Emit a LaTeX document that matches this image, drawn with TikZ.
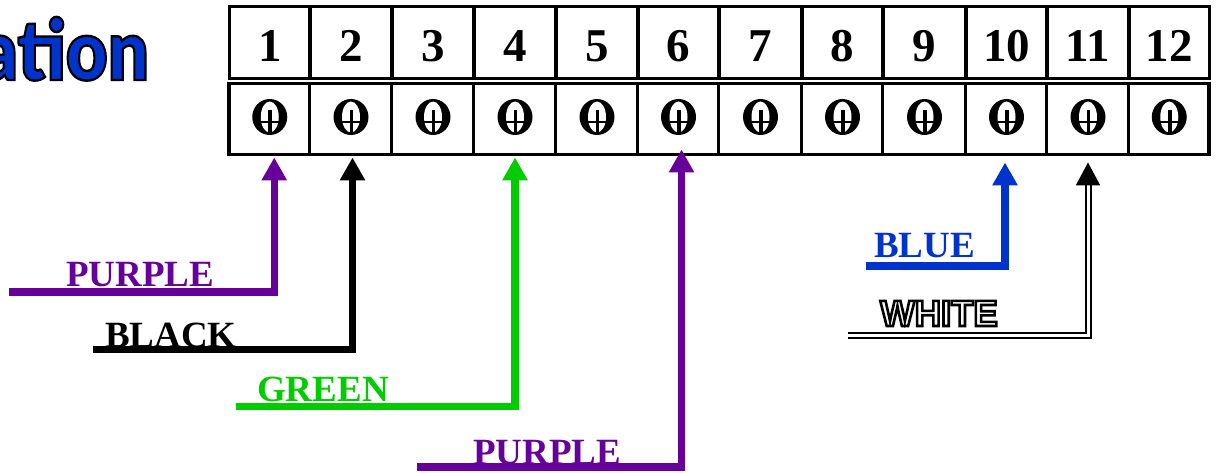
\documentclass[tikz,border=0pt]{standalone}
\usepackage{fontspec}
\usetikzlibrary{arrows.meta}
\setmainfont{Liberation Serif}
\newfontfamily\hdfont{Liberation Sans}[BoldFont=* Bold]
\newfontfamily\ttlfont{Lato Black}
\definecolor{wpurple}{HTML}{660099}
\definecolor{wgreen}{HTML}{00CC00}
\definecolor{wblue}{HTML}{0033CC}
\newcommand\strokeon[1]{\special{pdf:code 2 Tr #1 w 0 0 0 RG}}
\newcommand\strokeoff{\special{pdf:code 0 Tr}}
\tikzset{
  x=1pt,y=-1pt,
  cella/.style={draw=black,line width=3.4pt,minimum height=72pt,inner sep=0pt,font=\fontsize{47}{50}\selectfont\bfseries},
  cellb/.style={draw=black,line width=3.4pt,minimum height=71.5pt,inner sep=0pt},
  wire/.style={line width=7.3pt,line join=miter,-{Triangle[length=23pt,width=24pt]}},
  wlabel/.style={anchor=base west,inner sep=0pt,font=\fontsize{37}{40}\selectfont\bfseries},
}
\begin{document}
\begin{tikzpicture}
\useasboundingbox (0,0) rectangle (1218,473);
\node[anchor=base east,inner sep=0pt,xscale=.86,font=\ttlfont\fontsize{84}{88}\selectfont] (title) at (149,80) {\color{wblue}\strokeon{2.4}ation\strokeoff};
% cells
\foreach \i/\l/\r in {1/229.5/310,2/310/392,3/392/474,4/474/556,5/556/638,6/638/719,7/719/802,8/802/883,9/883/966,10/966/1047,11/1047/1129,12/1129/1209.5}{
  \pgfmathsetmacro\w{\r-\l}
  \pgfmathsetmacro\c{(\r+\l)/2}
  \node[cella,minimum width=\w pt] (a\i) at (\c,42.5) {\raisebox{-19.5pt}[0pt][0pt]{\i}};
  \node[cellb,minimum width=\w pt] (b\i) at (\c-.5,119) {};
  \fill[black] (\c-17.5,117) arc[x radius=17.5,y radius=18,start angle=180,end angle=-180] -- cycle;
  \fill[white] (\c-9,117) arc[x radius=9,y radius=15.5,start angle=180,end angle=-180] -- cycle;
  \draw[line width=3.6pt] (\c+.5,110) -- (\c+.5,135);
  \draw[line width=1.6pt] (\c-9,122) -- (\c+9,122);
}
% connector starts
\coordinate (s1) at (9,292);
\coordinate (s2) at (93,349.5);
\coordinate (s4) at (236,406.5);
\coordinate (s6) at (417,467);
\coordinate (s10) at (866,266);
\coordinate (s11) at (848,335.5);
\draw[wire,wpurple] (s1) -| ([xshift=5pt,yshift=-1pt]b1.south);
\draw[wire,black] (s2) -| ([xshift=2pt,yshift=-1pt]b2.south);
\draw[wire,wgreen] (s4) -| ([xshift=.5pt,yshift=-1pt]b4.south);
\draw[wire,wpurple] (s6) -| ([xshift=3.5pt,yshift=7pt]b6.south);
\draw[wire,wblue] (s10) -| ([xshift=-1pt,yshift=-6pt]b10.south);
\draw[wire,black,line width=2pt,double=white,double distance=3pt] (s11) -| ([yshift=-6pt,xshift=.5pt]b11.south);
% labels
\node[wlabel,text=wpurple] (lp1) at (66,286) {PURPLE};
\node[wlabel,text=black] (lk) at (105,347) {BLACK};
\node[wlabel,text=wgreen] (lg) at (257,401) {GREEN};
\node[wlabel,text=wpurple] (lp2) at (473,464) {PURPLE};
\node[wlabel,text=wblue] (lb) at (874,257) {BLUE};
\node[anchor=base west,inner sep=0pt,font=\hdfont\bfseries\fontsize{36.5}{40}\selectfont] (lw) at (880,326) {\color{white}\strokeon{2.6}WHITE\strokeoff};
\end{tikzpicture}
\end{document}
